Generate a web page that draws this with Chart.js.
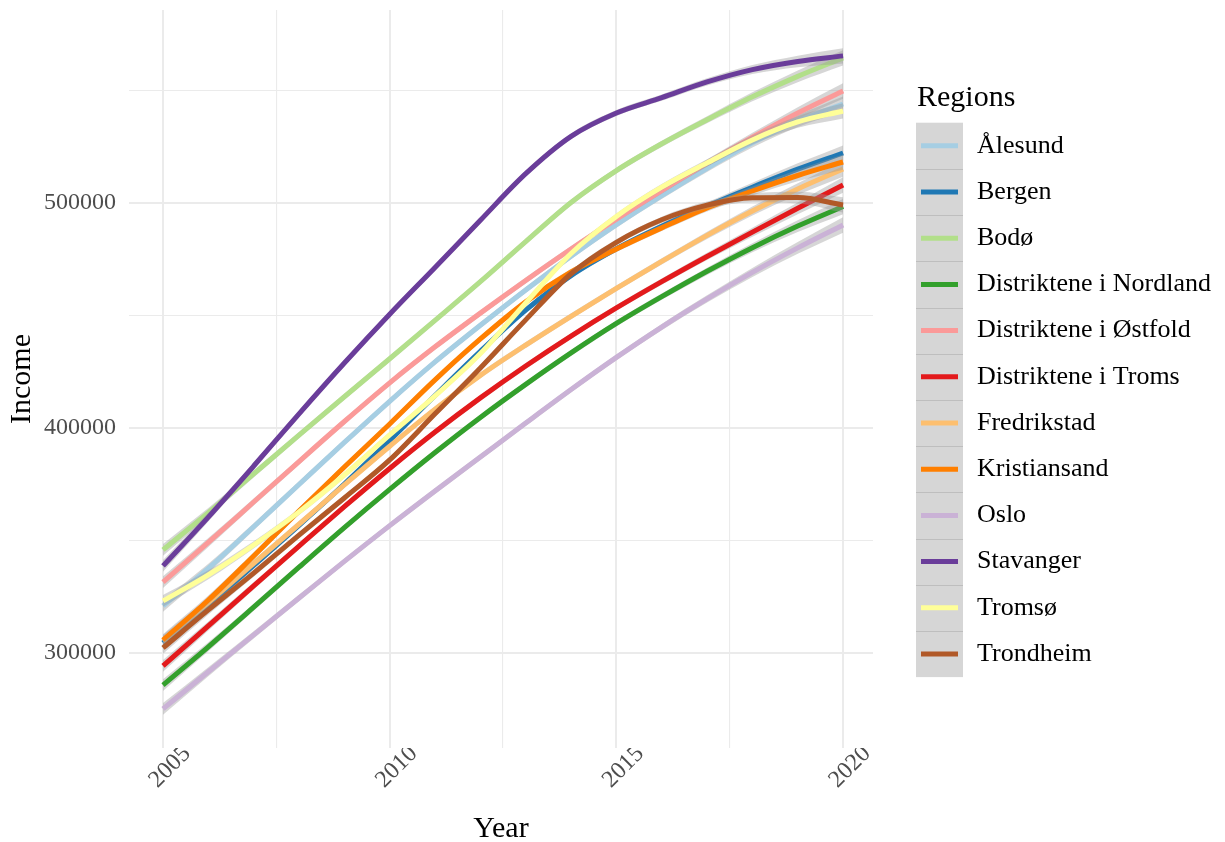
<!DOCTYPE html>
<html>
<head>
<meta charset="utf-8">
<script src="https://cdn.jsdelivr.net/npm/chart.js@4.4.1/dist/chart.umd.min.js"></script>
<style>
  html, body { margin: 0; padding: 0; background: #ffffff; }
  canvas { display: block; }
</style>
</head>
<body>
<canvas id="income" width="1225" height="842"></canvas>
<script>
// Years on the x axis
const years = [2005, 2006, 2007, 2008, 2009, 2010, 2011, 2012, 2013, 2014, 2015, 2016, 2017, 2018, 2019, 2020];

// Smoothed income per region (NOK)
const alesund      = [320800, 337500, 356000, 374800, 393500, 411800, 429300, 445600, 461300, 476300, 490300, 503200, 515400, 526700, 536400, 544000];
const bergen       = [304300, 321200, 338800, 356600, 375000, 394400, 414400, 434000, 452300, 467700, 479600, 489600, 498600, 507000, 515000, 522200];
const bodo         = [345700, 362300, 379500, 396700, 413800, 430700, 447800, 465000, 482800, 500200, 514400, 526300, 537000, 547200, 556300, 564500];
const nordland     = [285600, 302600, 320200, 338000, 355600, 372600, 389000, 404600, 419300, 433300, 446400, 458300, 469600, 480100, 489700, 498400];
const ostfold      = [331400, 349000, 367000, 385000, 402800, 420000, 436000, 451000, 465500, 479500, 492800, 505500, 517700, 529200, 540000, 549800];
const troms        = [294100, 311900, 329700, 347400, 364900, 381900, 398100, 413300, 427500, 440800, 453300, 465000, 476200, 487000, 497600, 508000];
const fredrikstad  = [305200, 322300, 339700, 357100, 374600, 391800, 408300, 423300, 436800, 449600, 462000, 474000, 485600, 496400, 506200, 515100];
const kristiansand = [305600, 323400, 343000, 363000, 382600, 401700, 421300, 439500, 456000, 469300, 479500, 488900, 497800, 505300, 512200, 518200];
const oslo         = [275000, 291500, 307900, 324300, 340600, 356500, 371900, 387000, 402100, 417000, 431300, 444800, 457300, 469100, 480000, 490200];
const stavanger    = [338600, 360300, 383000, 406200, 428800, 450500, 471300, 492300, 513000, 529600, 540000, 546800, 553800, 559300, 562900, 565400];
const tromso       = [323000, 334600, 347900, 362600, 379000, 396800, 414200, 433000, 455500, 477500, 494000, 507000, 517800, 528000, 536000, 540900];
const trondheim    = [302100, 319000, 335400, 352300, 368800, 385700, 406200, 426600, 448000, 468500, 482500, 492500, 499000, 502300, 502400, 499100];

// Half width of the confidence band around each smoothed line, per year
const bandHalf = [2600, 2000, 1600, 1400, 1300, 1300, 1300, 1300, 1300, 1300, 1300, 1400, 1600, 2000, 2600, 3400];

// Legend order, labels and colours
const regions = ['Ålesund', 'Bergen', 'Bodø', 'Distriktene i Nordland', 'Distriktene i Østfold',
                 'Distriktene i Troms', 'Fredrikstad', 'Kristiansand', 'Oslo', 'Stavanger', 'Tromsø', 'Trondheim'];
const series = [alesund, bergen, bodo, nordland, ostfold, troms, fredrikstad, kristiansand, oslo, stavanger, tromso, trondheim];
const colors = ['#A6CEE3', '#1F78B4', '#B2DF8A', '#33A02C', '#FB9A99', '#E31A1C',
                '#FDBF6F', '#FF7F00', '#CAB2D6', '#6A3D9A', '#FFFF99', '#B15928'];

// Axis breaks: grid lines at every break, labels on the major ones
const xBreaks = [2005, 2007.5, 2010, 2012.5, 2015, 2017.5, 2020];
const xTickLabels = [2005, 2010, 2015, 2020];
const yBreaks = [300000, 350000, 400000, 450000, 500000, 550000];
const yTickLabels = [300000, 400000, 500000];

const FONT = '"Liberation Serif", "Times New Roman", serif';
const BAND = 'rgba(153,153,153,0.4)';

const toPoints = vals => years.map((yr, k) => ({ x: yr, y: vals[k] }));

// Each region: an invisible upper edge, a lower edge filled up to it, then the line.
// Draw order follows the region order so later regions sit on top.
const datasets = [];
series.forEach((vals, i) => {
  const n = series.length;
  const upperIdx = datasets.length;
  datasets.push({
    label: regions[i] + ' upper',
    data: years.map((yr, k) => ({ x: yr, y: vals[k] + bandHalf[k] })),
    borderColor: 'rgba(0,0,0,0)', borderWidth: 0, pointRadius: 0,
    cubicInterpolationMode: 'monotone', fill: false,
    order: 2 * (n - 1 - i) + 1
  });
  datasets.push({
    label: regions[i] + ' lower',
    data: years.map((yr, k) => ({ x: yr, y: vals[k] - bandHalf[k] })),
    borderColor: 'rgba(0,0,0,0)', borderWidth: 0, pointRadius: 0,
    cubicInterpolationMode: 'monotone',
    fill: { target: upperIdx }, backgroundColor: BAND,
    order: 2 * (n - 1 - i) + 1
  });
  datasets.push({
    label: regions[i],
    data: toPoints(vals),
    borderColor: colors[i], borderWidth: 5, pointRadius: 0,
    cubicInterpolationMode: 'monotone', fill: false,
    borderCapStyle: 'butt', borderJoinStyle: 'round',
    order: 2 * (n - 1 - i)
  });
});

const whiteBackground = {
  id: 'whiteBackground',
  beforeDraw(chart) {
    const c = chart.ctx;
    c.save();
    c.fillStyle = '#ffffff';
    c.fillRect(0, 0, chart.width, chart.height);
    c.restore();
  }
};

// Legend with grey key boxes, as drawn for smoothed lines with bands
const regionLegend = {
  id: 'regionLegend',
  afterDraw(chart) {
    const c = chart.ctx;
    const left = 916, keyW = 47, top = 122.7, rowH = 46.2;
    c.save();
    c.fillStyle = '#000000';
    c.font = '30px ' + FONT;
    c.textBaseline = 'alphabetic';
    c.textAlign = 'left';
    c.fillText('Regions', 917, 106);

    c.fillStyle = '#d6d6d6';
    c.fillRect(left, top, keyW, rowH * regions.length);
    c.strokeStyle = '#bebebe';
    c.lineWidth = 1;
    for (let k = 1; k < regions.length; k++) {
      const y = Math.round(top + k * rowH) + 0.5;
      c.beginPath();
      c.moveTo(left, y);
      c.lineTo(left + keyW, y);
      c.stroke();
    }
    regions.forEach((name, i) => {
      const cy = top + rowH * (i + 0.5);
      c.strokeStyle = colors[i];
      c.lineWidth = 5;
      c.beginPath();
      c.moveTo(921, cy);
      c.lineTo(958, cy);
      c.stroke();
      c.fillStyle = '#000000';
      c.font = '26px ' + FONT;
      c.textBaseline = 'middle';
      c.fillText(name, 977, cy);
    });
    c.restore();
  }
};

new Chart(document.getElementById('income'), {
  type: 'line',
  data: { datasets },
  options: {
    responsive: false,
    animation: false,
    devicePixelRatio: 1,
    layout: { padding: { left: 0, right: 352, top: 10, bottom: 0 } },
    plugins: { legend: { display: false }, tooltip: { enabled: false } },
    scales: {
      x: {
        type: 'linear',
        min: 2004.25,
        max: 2020.66,
        border: { display: false },
        grid: {
          color: '#ebebeb',
          drawTicks: false,
          lineWidth: c => (c.tick && xTickLabels.includes(c.tick.value)) ? 2 : 1.1
        },
        ticks: {
          autoSkip: false,
          minRotation: 45,
          maxRotation: 45,
          padding: -8,
          labelOffset: 24,
          color: '#4d4d4d',
          font: { family: FONT, size: 24 },
          callback: v => xTickLabels.includes(v) ? String(v) : ''
        },
        afterBuildTicks: s => { s.ticks = xBreaks.map(v => ({ value: v })); },
        title: {
          display: true,
          text: 'Year',
          color: '#000000',
          font: { family: FONT, size: 30, lineHeight: 0.8 },
          padding: { top: 0, bottom: 1 }
        },
        afterFit: s => { s.height = 94; s.paddingLeft = 0; s.paddingRight = 0; }
      },
      y: {
        type: 'linear',
        min: 257600,
        max: 585800,
        border: { display: false },
        grid: {
          color: '#ebebeb',
          drawTicks: false,
          lineWidth: c => (c.tick && yTickLabels.includes(c.tick.value)) ? 2 : 1.1
        },
        ticks: {
          padding: 13,
          color: '#4d4d4d',
          font: { family: FONT, size: 24 },
          callback: v => yTickLabels.includes(v) ? String(v) : ''
        },
        afterBuildTicks: s => { s.ticks = yBreaks.map(v => ({ value: v })); },
        title: {
          display: true,
          text: 'Income',
          color: '#000000',
          font: { family: FONT, size: 30, lineHeight: 1.2 },
          padding: { top: 4, bottom: 0 }
        },
        afterFit: s => { s.width = 129; s.paddingTop = 0; s.paddingBottom = 0; }
      }
    }
  },
  plugins: [whiteBackground, regionLegend]
});
</script>
</body>
</html>
